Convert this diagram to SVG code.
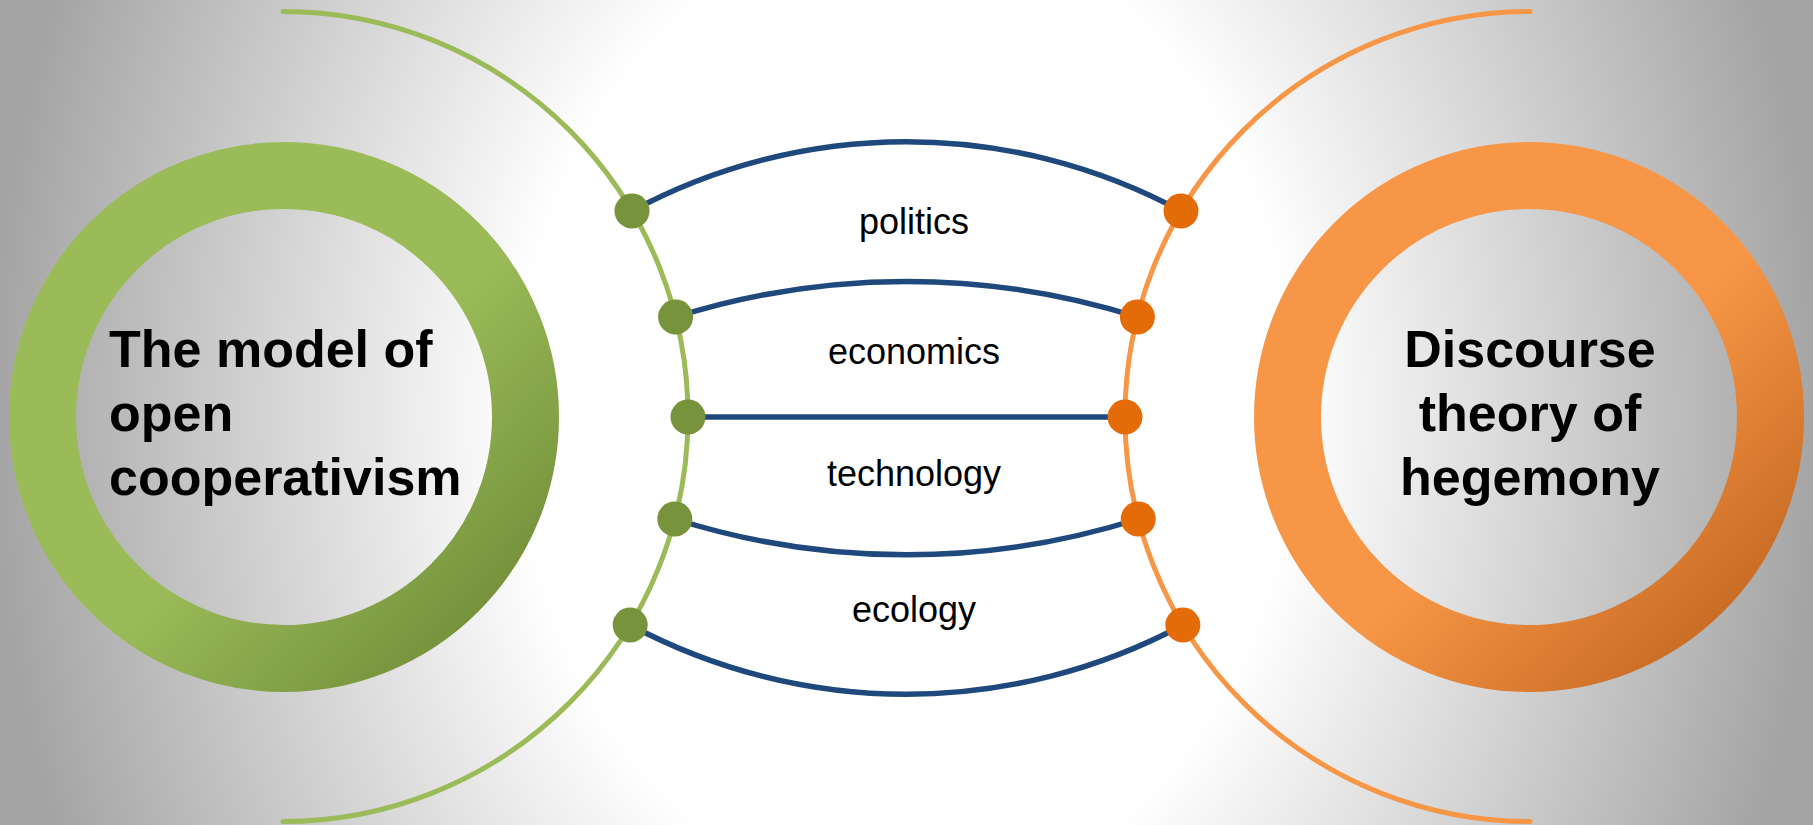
<svg xmlns="http://www.w3.org/2000/svg" width="1813" height="825" viewBox="0 0 1813 825">
  <defs>
    <radialGradient id="bg" gradientUnits="userSpaceOnUse" cx="906.5" cy="412" r="920" gradientTransform="translate(906.5,412) scale(1,1.25) translate(-906.5,-412)">
      <stop offset="0" stop-color="#ffffff"/>
      <stop offset="0.42" stop-color="#ffffff"/>
      <stop offset="1" stop-color="#a3a3a3"/>
    </radialGradient>
    <linearGradient id="gGreen" x1="0" y1="0" x2="1" y2="1">
      <stop offset="0" stop-color="#9bbb59"/>
      <stop offset="0.55" stop-color="#9bbb59"/>
      <stop offset="1" stop-color="#6c8834"/>
    </linearGradient>
    <linearGradient id="gOrange" x1="0" y1="0" x2="1" y2="1">
      <stop offset="0" stop-color="#f79646"/>
      <stop offset="0.55" stop-color="#f79646"/>
      <stop offset="1" stop-color="#bd611c"/>
    </linearGradient>
    <style>
      .big { fill: none; stroke-width: 5; stroke-linecap: round; }
      .gArc { stroke: #9bbb59; }
      .oArc { stroke: #f79646; }
      .ring { fill: none; stroke-width: 67; }
      .link { fill: none; stroke: #1f497d; stroke-width: 5.5; }
      .gDot { fill: #77933c; }
      .oDot { fill: #e36c09; }
      .lbl { font-family: "Liberation Sans", Arial, sans-serif; font-size: 36px; fill: #000; text-anchor: middle; }
      .title { font-family: "Liberation Sans", Arial, sans-serif; font-size: 52px; font-weight: bold; fill: #000; }
    </style>
  </defs>
  <rect x="0" y="0" width="1813" height="825" fill="url(#bg)"/>

  <g id="left-arc">
    <path class="big gArc" d="M283,11.5 A405,405 0 0 1 283,821.5"/>
  </g>
  <g id="right-arc">
    <path class="big oArc" d="M1530,11.5 A405,405 0 0 0 1530,821.5"/>
  </g>

  <g id="connectors">
    <path class="link" d="M632,211 A578.5,578.5 0 0 1 1181,211"/>
    <path class="link" d="M675.6,317 A766.7,766.7 0 0 1 1137.4,317"/>
    <path class="link" d="M688,417 L1125,417"/>
    <path class="link" d="M674.8,519 A766.7,766.7 0 0 0 1138.2,519"/>
    <path class="link" d="M630.2,625 A586,586 0 0 0 1182.8,625"/>
  </g>

  <g id="node-open-cooperativism">
    <circle class="ring" cx="284" cy="417" r="241.5" stroke="url(#gGreen)"/>
    <text class="title" x="109" y="367">The model of</text>
    <text class="title" x="109" y="431">open</text>
    <text class="title" x="109" y="495">cooperativism</text>
  </g>

  <g id="node-hegemony">
    <circle class="ring" cx="1529" cy="417" r="241.5" stroke="url(#gOrange)"/>
    <text class="title" x="1530" y="367" text-anchor="middle">Discourse</text>
    <text class="title" x="1530" y="431" text-anchor="middle">theory of</text>
    <text class="title" x="1530" y="495" text-anchor="middle">hegemony</text>
  </g>

  <g id="left-dots">
    <circle class="gDot" cx="632" cy="211" r="17.5"/>
    <circle class="gDot" cx="675.6" cy="317" r="17.5"/>
    <circle class="gDot" cx="688" cy="417" r="17.5"/>
    <circle class="gDot" cx="674.8" cy="519" r="17.5"/>
    <circle class="gDot" cx="630.2" cy="625" r="17.5"/>
  </g>
  <g id="right-dots">
    <circle class="oDot" cx="1181" cy="211" r="17.5"/>
    <circle class="oDot" cx="1137.4" cy="317" r="17.5"/>
    <circle class="oDot" cx="1125" cy="417" r="17.5"/>
    <circle class="oDot" cx="1138.2" cy="519" r="17.5"/>
    <circle class="oDot" cx="1182.8" cy="625" r="17.5"/>
  </g>

  <g id="labels">
    <text class="lbl" x="914" y="234">politics</text>
    <text class="lbl" x="914" y="364">economics</text>
    <text class="lbl" x="914" y="486">technology</text>
    <text class="lbl" x="914" y="622">ecology</text>
  </g>
</svg>
